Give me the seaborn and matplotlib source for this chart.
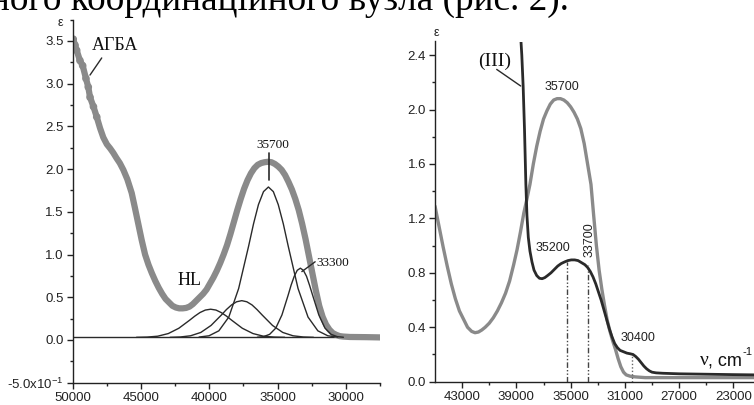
import numpy as np
import pandas as pd
import seaborn as sns
import matplotlib
matplotlib.use("Agg")
import matplotlib.pyplot as plt
from matplotlib.ticker import MultipleLocator, FixedLocator

# ---------------- data ----------------
# Left panel: experimental spectrum of АГБА (gray dots)
agba_nu = [49960, 49830, 49710, 49470, 49270, 49030, 48860, 48730, 48480, 48240,
           48000, 47760, 47500, 47250, 47030, 46800, 46550, 46290, 46000, 45680,
           45450, 45200, 44950, 44700, 44450, 44200, 43950, 43700, 43450, 43200,
           42950, 42700, 42450, 42200, 41950, 41700, 41450, 41200, 40950, 40700,
           40450, 40200, 39950, 39700, 39450, 39200, 38950, 38700, 38450, 38200,
           37950, 37700, 37450, 37200, 36950, 36700, 36450, 36200, 35950, 35700,
           35450, 35200, 34950, 34700, 34450, 34200, 33950, 33700, 33450, 33200,
           32950, 32700, 32450, 32200, 31950, 31700, 31450, 31200, 30950, 30700,
           30450, 30200, 29700, 28500, 27500]
agba_eps = [3.52, 3.45, 3.39, 3.27, 3.21, 3.06, 2.96, 2.84, 2.73, 2.61,
            2.48, 2.37, 2.29, 2.24, 2.19, 2.13, 2.07, 1.99, 1.88, 1.72,
            1.55, 1.36, 1.17, 1.00, 0.88, 0.78, 0.69, 0.61, 0.54, 0.48,
            0.44, 0.40, 0.38, 0.37, 0.37, 0.375, 0.39, 0.42, 0.46, 0.50,
            0.54, 0.59, 0.66, 0.73, 0.81, 0.90, 1.00, 1.11, 1.24, 1.38,
            1.52, 1.65, 1.77, 1.87, 1.95, 2.01, 2.05, 2.07, 2.08, 2.085,
            2.08, 2.06, 2.03, 1.99, 1.93, 1.85, 1.76, 1.65, 1.52, 1.36,
            1.18, 0.98, 0.78, 0.58, 0.40, 0.27, 0.18, 0.12, 0.08, 0.06,
            0.045, 0.04, 0.035, 0.033, 0.03]

# Gaussian components of the decomposition (black thin lines)
compA_nu = [40750, 40020, 39300, 38570, 37850, 37120, 36760, 36400, 36030, 35670,
            35310, 34950, 34580, 34220, 33500, 32770, 32050, 31320, 30600]
compA_eps = [0.034, 0.049, 0.107, 0.268, 0.602, 1.098, 1.359, 1.584, 1.736, 1.79,
             1.736, 1.584, 1.359, 1.098, 0.602, 0.268, 0.107, 0.049, 0.034]
compB_nu = [36480, 36030, 35580, 35130, 34680, 34230, 34010, 33780, 33560, 33330,
            33110, 32880, 32660, 32430, 31980, 31530, 31080, 30630, 30180]
compB_eps = [0.032, 0.039, 0.066, 0.139, 0.293, 0.522, 0.641, 0.745, 0.815, 0.84,
             0.815, 0.745, 0.641, 0.522, 0.293, 0.139, 0.066, 0.039, 0.032]
compC_nu = [42870, 42120, 41370, 40620, 39870, 39120, 38750, 38370, 38000, 37620,
            37250, 36870, 36500, 36120, 35370, 34620, 33870, 33120, 32370]
compC_eps = [0.031, 0.035, 0.049, 0.088, 0.17, 0.291, 0.355, 0.41, 0.447, 0.46,
             0.447, 0.41, 0.355, 0.291, 0.17, 0.088, 0.049, 0.035, 0.031]
compD_nu = [45330, 44550, 43780, 43000, 42230, 41450, 41060, 40680, 40290, 39900,
            39510, 39130, 38740, 38350, 37580, 36800, 36030, 35250, 34480]
compD_eps = [0.031, 0.034, 0.044, 0.075, 0.137, 0.23, 0.279, 0.321, 0.35, 0.36,
             0.35, 0.321, 0.279, 0.23, 0.137, 0.075, 0.044, 0.034, 0.031]
baseline_eps = 0.03

left_xticks = [50000, 45000, 40000, 35000, 30000]
left_yticks = [-0.5, 0.0, 0.5, 1.0, 1.5, 2.0, 2.5, 3.0, 3.5]
left_ylabels = ["-5.0x10$^{-1}$", "0.0", "0.5", "1.0", "1.5", "2.0", "2.5", "3.0", "3.5"]

# Right panel: gray spectrum and dark spectrum (III)
gray_nu = [45000, 44700, 44400, 44100, 43800, 43500, 43200, 42900, 42600, 42300,
           42050, 41800, 41550, 41300, 41000, 40700, 40400, 40100, 39800, 39500,
           39200, 38950, 38700, 38450, 38250, 38000, 37750, 37500, 37250, 37000,
           36750, 36500, 36250, 36000, 35750, 35500, 35250, 35000, 34750, 34500,
           34250, 34000, 33750, 33500, 33300, 33100, 32900, 32700, 32500, 32300,
           32100, 31900, 31700, 31500, 31300, 31100, 30900, 30600, 30200, 29500,
           21400]
gray_eps = [1.29, 1.14, 0.99, 0.85, 0.72, 0.61, 0.52, 0.46, 0.40, 0.37,
            0.36, 0.365, 0.38, 0.40, 0.43, 0.47, 0.52, 0.58, 0.65, 0.74,
            0.86, 0.97, 1.10, 1.24, 1.33, 1.45, 1.60, 1.73, 1.84, 1.93,
            1.99, 2.04, 2.07, 2.08, 2.08, 2.07, 2.05, 2.02, 1.98, 1.93,
            1.86, 1.75, 1.60, 1.45, 1.22, 1.00, 0.82, 0.68, 0.56, 0.45,
            0.37, 0.30, 0.24, 0.17, 0.11, 0.07, 0.05, 0.04, 0.035, 0.03,
            0.03]
dark_nu = [38720, 38600, 38500, 38400, 38300, 38220, 38120, 38000, 37850, 37700,
           37500, 37300, 37100, 36900, 36700, 36450, 36200, 35950, 35700, 35450,
           35200, 34950, 34700, 34450, 34200, 33950, 33750, 33550, 33350, 33150,
           32950, 32750, 32550, 32350, 32150, 31950, 31750, 31550, 31350, 31100,
           30850, 30600, 30400, 30200, 30000, 29800, 29600, 29400, 29200, 29000,
           28700, 28200, 27000, 25000, 23000, 21300]
dark_eps = [2.60, 2.40, 2.17, 1.85, 1.45, 1.22, 1.06, 0.96, 0.88, 0.82,
            0.78, 0.76, 0.757, 0.765, 0.78, 0.80, 0.825, 0.85, 0.868, 0.88,
            0.89, 0.895, 0.895, 0.89, 0.875, 0.86, 0.84, 0.81, 0.77, 0.72,
            0.66, 0.60, 0.53, 0.46, 0.39, 0.33, 0.28, 0.25, 0.23, 0.22,
            0.21, 0.205, 0.20, 0.185, 0.165, 0.14, 0.115, 0.095, 0.08, 0.07,
            0.065, 0.062, 0.058, 0.055, 0.052, 0.05]
mark_nu = [35260, 33710, 30470]
mark_top = [0.88, 0.86, 0.21]
right_xticks = [43000, 39000, 35000, 31000, 27000, 23000]
right_yticks = [0.0, 0.4, 0.8, 1.2, 1.6, 2.0, 2.4]

# ---------------- figure ----------------
sns.set_theme(style="ticks")
plt.rcParams["font.family"] = ["Liberation Sans", "DejaVu Sans"]
plt.rcParams["mathtext.fontset"] = "custom"
plt.rcParams["mathtext.rm"] = "Liberation Sans"
plt.rcParams["mathtext.it"] = "Liberation Sans"

W, H = 754, 405
fig = plt.figure(figsize=(W / 100, H / 100), dpi=100)
fig.patch.set_facecolor("white")

def fp(x, y):
    return x / W, 1 - y / H

axL = fig.add_axes([72.7 / W, 1 - 382.7 / H, (380 - 72.7) / W, (382.7 - 19.5) / H])
axR = fig.add_axes([435 / W, 1 - 381.7 / H, (754 - 435) / W, (381.7 - 41.5) / H])

DARK = "#2a2a2a"
GRAY = "#8a8a8a"

# ----- left panel -----
axL.axhline(baseline_eps, color=DARK, lw=1.0, zorder=2)
for nu, ep in [(compA_nu, compA_eps), (compB_nu, compB_eps),
               (compC_nu, compC_eps), (compD_nu, compD_eps)]:
    sns.lineplot(x=nu, y=ep, ax=axL, sort=False, estimator=None,
                 color=DARK, lw=1.0, zorder=3)
sns.lineplot(x=agba_nu, y=agba_eps, ax=axL, sort=False, estimator=None,
             color=GRAY, lw=4.5, zorder=2)
sns.scatterplot(x=agba_nu[:10], y=agba_eps[:10], ax=axL, color=GRAY, s=30,
                edgecolor="none", zorder=2)

axL.set_xlim(50000, 27500)
axL.set_ylim(-0.5, 3.75)
axL.set_xticks(left_xticks)
axL.xaxis.set_minor_locator(FixedLocator([47500, 42500, 37500, 32500, 27500]))
axL.set_yticks(left_yticks, left_ylabels)
axL.yaxis.set_minor_locator(MultipleLocator(0.25))

axL.text(46900, 3.45, "АГБА", family="Liberation Serif", fontsize=13,
         ha="center", va="center", color="#111")
axL.plot([47875, 48733], [3.30, 3.10], color=DARK, lw=1.0)
axL.text(41480, 0.70, "HL", family="Liberation Serif", fontsize=13,
         ha="center", va="center", color="#111")
axL.text(35363, 2.28, "35700", family="Liberation Serif", fontsize=9.5,
         ha="center", va="center", color="#111")
axL.plot([35610, 35610], [2.19, 1.87], color=DARK, lw=1.2)
axL.text(30968, 0.90, "33300", family="Liberation Serif", fontsize=9.5,
         ha="center", va="center", color="#111")
axL.plot([33222, 32248], [0.80, 0.915], color=DARK, lw=1.0)

# ----- right panel -----
sns.lineplot(x=gray_nu, y=gray_eps, ax=axR, sort=False, estimator=None,
             color=GRAY, lw=2.4, zorder=2)
sns.lineplot(x=dark_nu, y=dark_eps, ax=axR, sort=False, estimator=None,
             color=DARK, lw=2.0, zorder=3)
axR.vlines(mark_nu[:2], 0, mark_top[:2], colors="#444",
           linestyles=[(0, (4, 1.5, 1, 1.5, 1, 1.5))], lw=1.0)
axR.vlines(mark_nu[2:], 0, mark_top[2:], colors="#666",
           linestyles=[(0, (1, 1.5))], lw=1.0)

axR.set_xlim(45000, 21480)
axR.set_ylim(0, 2.5)
axR.set_xticks(right_xticks)
axR.xaxis.set_minor_locator(FixedLocator([41000, 37000, 33000, 29000, 25000]))
axR.set_yticks(right_yticks)
axR.yaxis.set_minor_locator(MultipleLocator(0.2))

axR.text(40577, 2.351, "(III)", family="Liberation Serif", fontsize=14,
         ha="center", va="center", color="#111")
axR.plot([40451, 38682], [2.295, 2.173], color=DARK, lw=1.0)
axR.text(35660, 2.163, "35700", fontsize=9, ha="center", va="center", color="#222")
axR.text(36279, 0.98, "35200", fontsize=9, ha="center", va="center", color="#222")
axR.text(33625, 1.041, "33700", fontsize=9, ha="center", va="center",
         rotation=90, color="#222")
axR.text(30013, 0.323, "30400", fontsize=9, ha="center", va="center", color="#222")

for ax in (axL, axR):
    ax.set_facecolor("white")
    ax.grid(False)
    for s in ("top", "right"):
        ax.spines[s].set_visible(False)
    for s in ("left", "bottom"):
        ax.spines[s].set_color("#222")
        ax.spines[s].set_linewidth(1.0)
    ax.tick_params(which="major", direction="out", length=4.5, width=1.0,
                   labelsize=9.5, pad=2, color="#222", labelcolor="#222")
    ax.tick_params(which="minor", direction="out", length=2.5, width=1.0,
                   color="#222")
    ax.set_xlabel("")
    ax.set_ylabel("")

# axis symbols and units
fig.text(*fp(60, 23), "ε", fontsize=9, ha="center", va="center", color="#222")
fig.text(*fp(436.7, 33.3), "ε", fontsize=9, ha="center", va="center", color="#222")
fig.text(*fp(700, 365), "ν", family="Liberation Serif", fontsize=14,
         ha="left", va="baseline", color="#111")
fig.text(*fp(708, 365), ", cm", fontsize=13, ha="left", va="baseline", color="#111")
fig.text(*fp(742.5, 355), "-1", fontsize=8, ha="left", va="baseline", color="#111")

# cropped page text at the top
fig.text(*fp(-10, 9.5), "ного координаційного вузла (рис. 2).",
         family="Liberation Serif", fontsize=26.8, ha="left", va="baseline",
         color="#000")

fig.savefig("out.png", dpi=100, facecolor="white")
